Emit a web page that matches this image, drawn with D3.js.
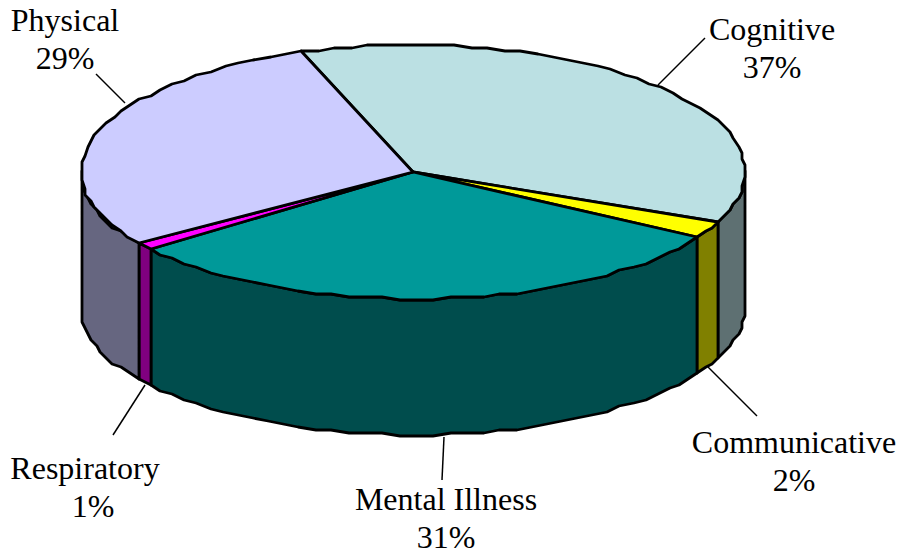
<!DOCTYPE html>
<html>
<head>
<meta charset="utf-8">
<script src="https://cdn.jsdelivr.net/npm/d3@7"></script>
<style>
  body { margin: 0; background: #fff; }
  text { font-family: "Liberation Serif", serif; font-size: 32px; fill: #000; }
</style>
</head>
<body>
<div id="chart"></div>
<script>
// Chart data
const categories = ["Cognitive", "Communicative", "Mental Illness", "Respiratory", "Physical"]
const percents = [37, 2, 31, 1, 29]
const topColors = ["#BBE0E3", "#FFFF00", "#009999", "#FF00FF", "#CCCCFF"]
const sideColors = ["#5E7072", "#808000", "#004D4D", "#800080", "#666680"]

// Layout of the labels and their leader lines, same order as categories
const labelCenters = [[772, 30], [794, 443], [446, 500], [85, 469], [65, 21]]
const percentCenters = [[772, 78], [794, 491], [446, 548], [93, 517], [65, 69]]
const leaders = [[[705, 38], [658, 85]], [[757, 416], [708, 367]], [[442, 480], [444, 437]], [[113, 435], [145, 385]], [[96, 74], [125, 103]]]

const width = 899
const height = 552
const cx = 413, cy = 172, rx = 332, ry = 127, depth = 136
const startDeg = -19.6
const rad = Math.PI / 180

const svg = d3.select("#chart").append("svg")
  .attr("width", width)
  .attr("height", height)
  .style("display", "block")

const slices = d3.pie().sort(null)
  .startAngle(startDeg * rad)
  .endAngle((startDeg + 360) * rad)(percents)

// The rim is a coarse polyline, points snapped to a small grid
const snap = v => Math.round(v / 3) * 3
const rimPoint = t => [snap(cx + rx * Math.sin(t) - 1) + 1, snap(cy - ry * Math.cos(t))]

function rim(a0, a1) {
  const n = Math.max(1, Math.ceil((a1 - a0) / (3 * rad)))
  return d3.range(n + 1).map(i => rimPoint(a0 + (a1 - a0) * i / n))
}

const line = d3.line()

// Side walls: only the front half of the disc shows
const walls = svg.append("g")
slices.forEach((s, i) => {
  const a0 = Math.max(s.startAngle, 90 * rad)
  const a1 = Math.min(s.endAngle, 270 * rad)
  if (a1 <= a0) return
  const top = rim(a0, a1)
  const bottom = top.map(p => [p[0], p[1] + depth]).reverse()
  walls.append("path")
    .attr("d", line(top.concat(bottom)) + "Z")
    .attr("fill", sideColors[i])
    .attr("stroke", "#000")
    .attr("stroke-width", 2.8)
    .attr("stroke-linejoin", "round")
})

// Top faces
svg.append("g").selectAll("path")
  .data(slices)
  .enter()
  .append("path")
  .attr("d", s => line([[cx, cy]].concat(rim(s.startAngle, s.endAngle))) + "Z")
  .attr("fill", (s, i) => topColors[i])
  .attr("stroke", "#000")
  .attr("stroke-width", 2.8)
  .attr("stroke-linejoin", "round")

// Leader lines
svg.append("g").selectAll("line")
  .data(leaders)
  .enter()
  .append("line")
  .attr("x1", d => d[0][0])
  .attr("y1", d => d[0][1])
  .attr("x2", d => d[1][0])
  .attr("y2", d => d[1][1])
  .attr("stroke", "#000")
  .attr("stroke-width", 1.5)

// Labels, two lines each
const labels = svg.append("g").selectAll("text")
  .data(categories)
  .enter()
  .append("text")
  .attr("text-anchor", "middle")

labels.append("tspan")
  .attr("x", (d, i) => labelCenters[i][0])
  .attr("y", (d, i) => labelCenters[i][1] + 10)
  .text(d => d)

labels.append("tspan")
  .attr("x", (d, i) => percentCenters[i][0])
  .attr("y", (d, i) => percentCenters[i][1])
  .text((d, i) => percents[i] + "%")
</script>
</body>
</html>
